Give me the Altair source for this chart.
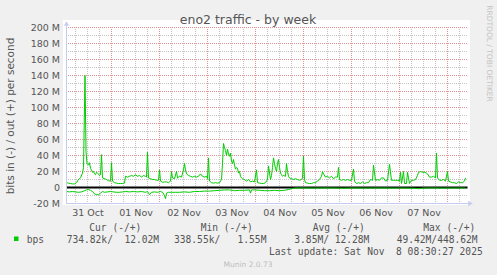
import altair as alt
import pandas as pd

# ---------------- data (hours since 31 Oct 00:00, values in Mbit/s) ----------------
out_t = [1.5, 2.5, 3.5, 4.5, 5.5, 6.5, 7.5, 8.5, 9.5, 10, 10.75, 11.25, 11.75, 12.5, 13, 13.5, 14, 14.5,
         15, 15.5, 16, 16.5, 17, 17.5, 18, 18.5, 19, 19.5, 20.5, 21.5, 22.5, 23.5, 24, 24.5, 25.5, 26.5,
         27.5, 28.5, 29.5, 30.5, 31, 32, 33, 34, 35, 36, 37, 38, 39, 40, 41, 41.5, 42, 42.5, 43.5, 44.5,
         45.5, 46.5, 47.5, 48, 48.5, 49.5, 50.5, 51.5, 52.5, 53.5, 54, 54.5, 55.5, 56.5, 57, 58, 59, 60,
         60.5, 61, 61.5, 62.5, 63.5, 64.5, 65.5, 66.5, 67.5, 68.5, 69.5, 70.5, 71.5, 72, 72.5, 73, 74, 75,
         76, 77, 78, 79, 79.5, 80, 80.5, 81, 81.5, 82, 82.5, 83, 83.5, 84, 84.5, 85, 85.5, 86, 86.5, 87,
         87.5, 88, 88.5, 89, 89.5, 90.5, 91.5, 92.5, 93.5, 94.5, 95.5, 96.5, 97, 98, 99, 100, 101, 102,
         102.5, 103.5, 104, 104.5, 105, 105.5, 106, 106.5, 107, 107.5, 108, 108.5, 109, 109.5, 110, 111,
         111.5, 112, 112.5, 113, 114, 115, 116, 117, 118, 119, 119.5, 120, 120.5, 121, 122, 123, 124, 125,
         126, 127, 128, 129, 129.5, 130, 131, 132, 133, 134, 135, 136, 137, 137.5, 138, 139, 140, 141, 142,
         143, 144, 145, 145.5, 146.5, 147.5, 148.5, 149.5, 150.5, 151.5, 152.5, 153.5, 154.5, 155, 156,
         157, 158, 159, 160, 161, 162, 163, 164, 165, 166, 167, 168, 168.5, 169, 170, 170.5, 171.5, 172,
         173, 174, 175, 176, 177, 177.5, 178.5, 179.5, 180.5, 181.5, 182, 183, 184, 185, 186, 186.5, 187,
         188, 189, 190, 191, 192, 192.5, 193.5, 194.5, 195.5, 196.5, 197.5, 198.5, 199.5, 200.5, 201]
out_v = [6, 5.5, 5, 4.5, 4.5, 6, 10, 12, 18, 25, 140, 45, 30, 28, 31, 24, 22, 19,
         20, 17, 16, 19, 18, 17, 15, 16, 41, 12, 11, 10, 8.5, 8, 31, 8, 6, 5.5,
         5, 5, 5, 5.5, 14, 13, 14, 15, 14, 16, 14, 15, 13, 15, 14, 13, 44, 12, 11, 10,
         10, 9, 9, 22, 8, 6.5, 7, 7, 6, 8, 20, 12, 11, 20, 12, 14, 13, 22,
         30, 22, 17, 15, 14, 13, 14, 13, 14, 17, 14, 13, 14, 11, 37, 8, 6, 5.5,
         6, 5.5, 6, 10, 30, 55, 50, 46, 40, 48, 42, 39, 43, 33, 30, 35, 28, 23, 25, 24,
         18, 20, 14, 12, 11, 10, 8, 10, 7, 8, 7, 22, 6, 5.5, 5, 5, 6, 10,
         27, 10, 15, 25, 37, 30, 24, 20, 30, 35, 25, 18, 16, 14, 15, 14,
         30, 20, 14, 12, 11, 10, 11, 10, 9, 10, 12, 39, 10, 6, 5.5, 5, 5, 6,
         6, 8, 10, 14, 20, 17, 13, 14, 12, 14, 11, 13, 13, 25, 10, 9, 10, 9, 10,
         9, 9, 23, 8, 5, 6, 5, 7, 5, 6, 6, 10, 9, 28, 9,
         10, 9, 12, 12, 8, 9, 29, 9, 9, 9, 9, 8, 19, 5, 20, 5, 5, 19,
         5, 9, 9, 10, 15, 19, 20, 19, 19, 18, 17, 13, 13, 14, 12, 43, 12,
         9, 9, 10, 8, 20, 8, 7, 6, 6, 5, 7, 6, 6, 8, 12]

in_t = [1.5, 3, 4.5, 6, 7.5, 9, 10.5, 11.5, 12.5, 13.5, 14.5, 15.5, 16.5, 17.5, 18.5, 19.5, 20.5, 22,
        23.5, 25, 26.5, 28, 29.5, 31, 33, 35, 37, 39, 41, 42, 43, 44, 45.5, 47, 48.5, 49.5, 50.5, 51,
        51.5, 52.5, 54, 56, 58, 60.5, 63, 65.5, 68, 70.5, 73, 75.5, 78, 80.5, 83, 85.5, 88, 90.5, 93,
        93.5, 94, 95.5, 98, 100.5, 103, 105.5, 108, 110.5, 112.5, 114, 115.5, 120, 125, 130, 135, 140,
        145, 150, 155, 160, 165, 170, 175, 177.5, 180, 185, 190, 195, 200, 201]
in_v = [-5, -5.5, -5, -5.5, -6, -5.5, -4, -3, -2.5, -3.5, -5, -8, -9, -9, -7, -5, -6, -5.5,
        -5, -5.5, -6, -6, -5.5, -5, -5.5, -5, -5.5, -5, -6, -5, -9, -6, -5.5, -6, -5, -6, -10, -14,
        -7, -6, -6, -6, -6, -5.5, -6, -5, -5, -4.5, -4.5, -4, -3.5, -3, -3, -4, -3.5, -3.5, -3,
        -7, -3, -3, -3.5, -4, -4, -3.5, -4, -3.5, -2.5, -1.5, -0.7, -0.6, -0.8, -0.6, -0.7, -0.9,
        -0.6, -0.8, -0.7, -0.6, -0.8, -0.7, -0.9, -1.5, -0.7, -0.6, -0.8, -0.7, -0.7, -0.7]

day_labels = ["31 Oct", "01 Nov", "02 Nov", "03 Nov", "04 Nov", "05 Nov", "06 Nov", "07 Nov"]
label_hours = [12, 36, 60, 84, 108, 132, 156, 180]
y_ticks = [-20, 0, 20, 40, 60, 80, 100, 120, 140, 160, 180, 200]

title_text = "eno2 traffic - by week"
y_title = "bits in (-) / out (+) per second"
legend_header = ["Cur (-/+)", "Min (-/+)", "Avg (-/+)", "Max (-/+)"]
legend_name = "bps"
legend_values = ["734.82k/  12.02M", "338.55k/   1.55M", "3.85M/ 12.28M", "49.42M/448.62M"]
last_update = "Last update: Sat Nov  8 08:30:27 2025"
munin_text = "Munin 2.0.73"
rrd_text = "RRDTOOL / TOBI OETIKER"

# ---------------- layout ----------------
W, H = 401, 176
LEFT, TOP = 66.5, 27.5
X_DOMAIN = [1.5, 202]
Y_DOMAIN = [-20, 200]
GREEN = "#00cc00"
TXT = "#555555"
RED_GRID = "#e29494"
GRAY_GRID = "#c4c4c4"
AXIS_C = "#c6ccf0"
SANS = "DejaVu Sans"
MONO = "DejaVu Sans Mono"

xs = alt.Scale(domain=X_DOMAIN, nice=False, zero=False)
ys = alt.Scale(domain=Y_DOMAIN, nice=False, zero=False)

one = pd.DataFrame({"k": [0]})


def nb(s):
    return s.replace(" ", "\u00a0")


out_df = pd.DataFrame({"t": out_t, "v": out_v})
in_df = pd.DataFrame({"t": in_t, "v": in_v})

minor_v = pd.DataFrame({"t": [h for h in range(6, 202, 6) if h % 24 != 0]})
major_v = pd.DataFrame({"t": [24 * k for k in range(1, 9)]})
minor_h = pd.DataFrame({"v": list(range(-10, 200, 20))})
major_h = pd.DataFrame({"v": [v for v in range(-20, 201, 20) if v != 0]})

label_expr = "[" + ",".join("'%s'" % d for d in day_labels) + "][round((datum.value-12)/24)]"

x_axis = alt.Axis(values=label_hours, labelExpr=label_expr, title=None, grid=False, domain=False,
                  ticks=False, labelFont=SANS, labelFontSize=9.5, labelColor=TXT, labelPadding=4,
                  labelOverlap=False, labelFlush=False, labelBound=False)
y_axis = alt.Axis(values=y_ticks, labelExpr="datum.value == 0 ? '0' : datum.value + ' M'",
                  title=y_title, grid=False, domain=False, ticks=False, labelFont=SANS,
                  labelFontSize=9.5, labelColor=TXT, labelPadding=7, labelOverlap=False,
                  labelBound=False, titleFont=SANS, titleFontSize=10.5, titleFontWeight="normal",
                  titleColor=TXT, titleX=-56.5, titleY=H / 2, titleAngle=270, titleAlign="center",
                  titleBaseline="middle")

X = alt.X("t:Q", scale=xs, axis=x_axis)
Y = alt.Y("v:Q", scale=ys, axis=y_axis)

canvas = alt.Chart(one).mark_rect(color="white").encode(
    x=alt.value(-3.5), x2=alt.value(W + 2.5), y=alt.value(-7.5), y2=alt.value(H + 1.5))

grid_style = dict(strokeDash=[1, 1], strokeDashOffset=0.5, strokeWidth=1)
grid_mv = alt.Chart(minor_v).mark_rule(color=GRAY_GRID, **grid_style).encode(
    x=X, y=alt.value(0), y2=alt.value(H))
grid_mh = alt.Chart(minor_h).mark_rule(color=GRAY_GRID, **grid_style).encode(
    y=Y, x=alt.value(0), x2=alt.value(W))
grid_Mv = alt.Chart(major_v).mark_rule(color=RED_GRID, **grid_style).encode(
    x=X, y=alt.value(0), y2=alt.value(H))
grid_Mh = alt.Chart(major_h).mark_rule(color=RED_GRID, **grid_style).encode(
    y=Y, x=alt.value(0), x2=alt.value(W))

zero_line = alt.Chart(pd.DataFrame({"v": [0]})).mark_rule(color="black", strokeWidth=2).encode(
    y=Y, x=alt.value(0), x2=alt.value(W))

out_line = alt.Chart(out_df).mark_line(color=GREEN, strokeWidth=1).encode(x=X, y=Y)
in_line = alt.Chart(in_df).mark_line(color=GREEN, strokeWidth=1).encode(x=X, y=Y)

y_axis_line = alt.Chart(one).mark_rule(color=AXIS_C, strokeWidth=1).encode(
    x=alt.value(0), y=alt.value(-5), y2=alt.value(H))
x_axis_line = alt.Chart(one).mark_rule(color=AXIS_C, strokeWidth=1).encode(
    y=alt.value(H), x=alt.value(0), x2=alt.value(W + 2))
arrow_up = alt.Chart(one).mark_point(shape="triangle-up", filled=True, color=AXIS_C, size=28,
                                     opacity=1).encode(x=alt.value(0), y=alt.value(-4))
arrow_right = alt.Chart(one).mark_point(shape="triangle-right", filled=True, color=AXIS_C, size=28,
                                        opacity=1).encode(x=alt.value(W + 3), y=alt.value(H))


def txt(s, x, y, font=SANS, size=9.5, color=TXT, align="left", angle=0, baseline="alphabetic"):
    return alt.Chart(pd.DataFrame({"s": [nb(s)]})).mark_text(
        font=font, fontSize=size, color=color, align=align, angle=angle, baseline=baseline
    ).encode(text="s:N", x=alt.value(x), y=alt.value(y))


ox, oy = LEFT, TOP
texts = [
    txt(title_text, 248 - ox, 23.5 - oy, size=12.5, align="center"),
    txt(rrd_text, 488.5 - ox, 53.5 - oy, size=7.5, color="#c4c4c4", align="center", angle=90,
        baseline="middle"),
]
hdr_x = [89.3, 200.7, 312.7, 423.3]
for s, x in zip(legend_header, hdr_x):
    texts.append(txt(s, x - ox, 230.5 - oy, font=MONO, size=9.6))
texts.append(txt(legend_name, 26.7 - ox, 242.5 - oy, font=MONO, size=9.6))
val_x = [66.7, 174, 294.3, 396.7]
for s, x in zip(legend_values, val_x):
    texts.append(txt(s, x - ox, 242.5 - oy, font=MONO, size=9.6))
texts.append(txt(last_update, 482.7 - ox, 254.5 - oy, font=MONO, size=9.6, align="right"))
texts.append(txt(munin_text, 248 - ox, 266.5 - oy, size=7.5, color="#bdbdbd", align="center"))

legend_box = alt.Chart(one).mark_rect(color=GREEN).encode(
    x=alt.value(14 - ox), x2=alt.value(18.5 - ox), y=alt.value(236.5 - oy), y2=alt.value(241 - oy))

chart = alt.layer(
    canvas, grid_mv, grid_mh, grid_Mv, grid_Mh, zero_line, out_line, in_line,
    y_axis_line, x_axis_line, arrow_up, arrow_right, legend_box, *texts
).properties(
    width=W, height=H,
    autosize=alt.AutoSizeParams(type="none"),
    padding={"left": LEFT, "top": TOP, "right": 497 - LEFT - W, "bottom": 275 - TOP - H},
    background="#f0f0f0",
).configure_view(stroke=None)

chart.save("out.html", embed_options={"renderer": "svg", "actions": False})
